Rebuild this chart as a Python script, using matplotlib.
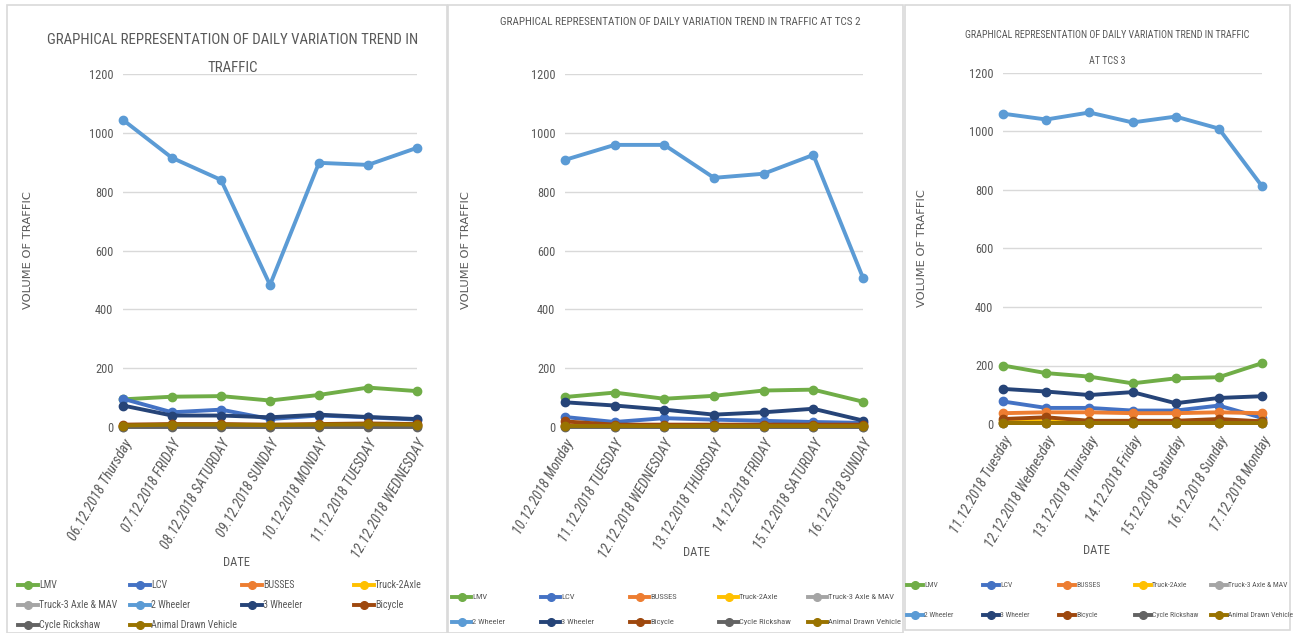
import matplotlib
matplotlib.use("Agg")
import matplotlib.pyplot as plt
from matplotlib.lines import Line2D
from matplotlib.patches import Rectangle
from matplotlib import font_manager as fm

W, H = 1293, 633
GREY = '#595959'

series_names = ['LMV', 'LCV', 'BUSSES', 'Truck-2Axle', 'Truck-3 Axle & MAV',
                '2 Wheeler', '3 Wheeler', 'Bicycle', 'Cycle Rickshaw', 'Animal Drawn Vehicle']
series_colors = ['#70AD47', '#4472C4', '#ED7D31', '#FFC000', '#A5A5A5',
                 '#5B9BD5', '#264478', '#9E480E', '#636363', '#997300']

# ---- Panel 1 ----
dates1 = ['06.12.2018 Thursday', '07.12.2018 FRIDAY', '08.12.2018 SATURDAY', '09.12.2018 SUNDAY',
          '10.12.2018 MONDAY', '11.12.2018 TUESDAY', '12.12.2018 WEDNESDAY']
lmv1 = [94, 103, 105, 90, 109, 134, 122]
lcv1 = [96, 50, 59, 27, 39, 33, 25]
busses1 = [5, 6, 6, 4, 6, 7, 6]
truck2_1 = [2, 3, 3, 2, 3, 3, 3]
truck3_1 = [1, 2, 2, 1, 2, 2, 2]
wheeler2_1 = [1044, 915, 840, 483, 898, 891, 949]
wheeler3_1 = [73, 39, 39, 33, 42, 34, 27]
bicycle1 = [8, 10, 10, 8, 10, 12, 10]
rickshaw1 = [1, 1, 1, 1, 1, 1, 1]
animal1 = [5, 8, 8, 6, 8, 9, 8]

# ---- Panel 2 ----
dates2 = ['10.12.2018 Monday', '11.12.2018 TUESDAY', '12.12.2018 WEDNESDAY', '13.12.2018 THURSDAY',
          '14.12.2018 FRIDAY', '15.12.2018 SATURDAY', '16.12.2018 SUNDAY']
lmv2 = [102, 117, 96, 106, 124, 127, 86]
lcv2 = [34, 17, 30, 25, 21, 17, 14]
busses2 = [6, 5, 5, 5, 5, 5, 5]
truck2_2 = [3, 2, 2, 2, 2, 2, 2]
truck3_2 = [2, 1, 1, 1, 1, 1, 1]
wheeler2_2 = [908, 959, 959, 847, 861, 925, 507]
wheeler3_2 = [84, 73, 59, 42, 50, 62, 22]
bicycle2 = [19, 8, 8, 8, 8, 8, 8]
rickshaw2 = [1, 1, 1, 1, 1, 1, 1]
animal2 = [5, 5, 5, 5, 5, 5, 5]

# ---- Panel 3 ----
dates3 = ['11.12.2018 Tuesday', '12.12.2018 Wednesday', '13.12.2018 Thursday', '14.12.2018 Friday',
          '15.12.2018 Saturday', '16.12.2018 Sunday', '17.12.2018 Monday']
lmv3 = [200, 174, 162, 139, 156, 160, 208]
lcv3 = [77, 55, 55, 46, 46, 63, 21]
busses3 = [37, 40, 40, 37, 37, 40, 37]
truck2_3 = [10, 10, 10, 10, 10, 10, 10]
truck3_3 = [5, 5, 5, 5, 5, 5, 5]
wheeler2_3 = [1061, 1041, 1065, 1031, 1051, 1010, 813]
wheeler3_3 = [120, 111, 99, 109, 71, 89, 95]
bicycle3 = [17, 23, 11, 11, 11, 17, 9]
rickshaw3 = [3, 3, 3, 3, 3, 3, 3]
animal3 = [2, 2, 2, 2, 2, 2, 2]

yticks = [0, 200, 400, 600, 800, 1000, 1200]

# pick a narrow font if one is installed
_names = {f.name for f in fm.fontManager.ttflist}
_narrow = sorted({f.name for f in fm.fontManager.ttflist
                  if ('Narrow' in f.name or 'Condensed' in f.name)})
FONT_MAIN = None
for cand in ['Liberation Sans Narrow', 'Roboto Condensed', 'Open Sans Condensed',
             'DejaVu Sans Condensed', 'Noto Sans Condensed'] + _narrow:
    if cand in _names:
        FONT_MAIN = cand
        break
if FONT_MAIN is None:
    FONT_MAIN = 'Liberation Sans' if 'Liberation Sans' in _names else 'DejaVu Sans'
FONT = [FONT_MAIN, 'DejaVu Sans']

panels = [
    dict(dates=dates1,
         data=[lmv1, lcv1, busses1, truck2_1, truck3_1, wheeler2_1, wheeler3_1, bicycle1, rickshaw1, animal1],
         box=(123, 417, 74, 427), border=(7, 5, 447, 633),
         title=['GRAPHICAL REPRESENTATION OF DAILY VARIATION TREND IN', 'TRAFFIC'],
         title_x=233, title_y=[40, 68], title_w=370,
         ylabel_x=28, date_xy=(237, 563),
         leg=dict(x0=18, dx=112, y0=585, dy=20, ncol=4, hl=20, scale=1.15)),
    dict(dates=dates2,
         data=[lmv2, lcv2, busses2, truck2_2, truck3_2, wheeler2_2, wheeler3_2, bicycle2, rickshaw2, animal2],
         box=(565, 863, 74, 427), border=(448, 5, 903, 633),
         title=['GRAPHICAL REPRESENTATION OF DAILY VARIATION TREND IN TRAFFIC AT TCS 2'],
         title_x=680, title_y=[22], title_w=360,
         ylabel_x=466, date_xy=(697, 553),
         leg=dict(x0=452, dx=89, y0=597, dy=25, ncol=5, hl=19, scale=0.98)),
    dict(dates=dates3,
         data=[lmv3, lcv3, busses3, truck2_3, truck3_3, wheeler2_3, wheeler3_3, bicycle3, rickshaw3, animal3],
         box=(1003, 1262, 73, 424), border=(905, 5, 1290, 630),
         title=['GRAPHICAL REPRESENTATION OF DAILY VARIATION TREND IN TRAFFIC', 'AT TCS 3'],
         title_x=1107, title_y=[35, 61], title_w=285,
         ylabel_x=922, date_xy=(1097, 551),
         leg=dict(x0=907, dx=76, y0=585, dy=30, ncol=5, hl=16, scale=0.88)),
]

fig = plt.figure(figsize=(W / 100, H / 100), dpi=100)
fig.patch.set_facecolor('white')
renderer = fig.canvas.get_renderer()


def fx(px):
    return px / W


def fy(py):
    return 1 - py / H


def size_for(text, target_px, family=FONT, style='normal'):
    t = fig.text(0, 0, text, fontsize=10, family=family, style=style)
    w = t.get_window_extent(renderer).width
    t.remove()
    return 10 * target_px / w


TICK_FS = size_for('06.12.2018 Thursday', 114, style='italic')
LEG_FS = size_for('Animal Drawn Vehicle', 74)
YT_FS = size_for('1200', 24)
DATE_FS = size_for('DATE', 27)
YL_FS = size_for('VOLUME OF TRAFFIC', 118, family=['DejaVu Sans'])

for p in panels:
    bx0, by0, bx1, by1 = p['border']
    fig.add_artist(Rectangle((fx(bx0), fy(by1)), fx(bx1 - bx0), (by1 - by0) / H,
                             transform=fig.transFigure, fill=False, edgecolor='#d9d9d9', linewidth=1.2))

    l, r, t, b = p['box']
    ax = fig.add_axes([fx(l), fy(b), fx(r - l), (b - t) / H])
    x = list(range(len(p['dates'])))
    for name, color, vals in zip(series_names, series_colors, p['data']):
        ax.plot(x, vals, color=color, linewidth=2.8, marker='o', markersize=6,
                clip_on=False, solid_capstyle='round')
    ax.set_xlim(0, len(x) - 1)
    ax.set_ylim(0, 1200)
    ax.set_yticks(yticks)
    ax.set_yticklabels([str(v) for v in yticks], family=FONT, fontsize=YT_FS, color=GREY)
    ax.set_xticks(x)
    ax.set_xticklabels(p['dates'], rotation=60, ha='right', rotation_mode='anchor',
                       family=FONT, fontsize=TICK_FS, color=GREY, style='italic')
    ax.tick_params(axis='both', length=0, pad=7)
    ax.grid(axis='y', color='#d9d9d9', linewidth=1)
    ax.set_axisbelow(True)
    for s in ax.spines.values():
        s.set_visible(False)

    tfs = size_for(p['title'][0], p['title_w'])
    for line, ty in zip(p['title'], p['title_y']):
        fig.text(fx(p['title_x']), fy(ty), line, ha='center', va='center', family=FONT,
                 fontsize=tfs, color=GREY)
    fig.text(fx(p['ylabel_x']), fy((t + b) / 2), 'VOLUME OF TRAFFIC', rotation=90,
             ha='center', va='center', family='DejaVu Sans', fontsize=YL_FS, color=GREY)
    dx_, dy_ = p['date_xy']
    fig.text(fx(dx_), fy(dy_), 'DATE', ha='center', va='center', family=FONT,
             fontsize=DATE_FS, color=GREY)

    lg = p['leg']
    for i, (name, color) in enumerate(zip(series_names, series_colors)):
        row, col = divmod(i, lg['ncol'])
        xs = lg['x0'] + col * lg['dx']
        ys = lg['y0'] + row * lg['dy']
        fig.add_artist(Line2D([fx(xs), fx(xs + lg['hl'])], [fy(ys), fy(ys)], transform=fig.transFigure,
                              color=color, linewidth=2.8))
        fig.add_artist(Line2D([fx(xs + lg['hl'] / 2)], [fy(ys)], transform=fig.transFigure,
                              color=color, marker='o', markersize=5.5))
        fig.text(fx(xs + lg['hl'] + 1), fy(ys), name, ha='left', va='center', family=FONT,
                 fontsize=LEG_FS * lg['scale'], color=GREY)

fig.savefig('out.png', dpi=100, facecolor='white')
